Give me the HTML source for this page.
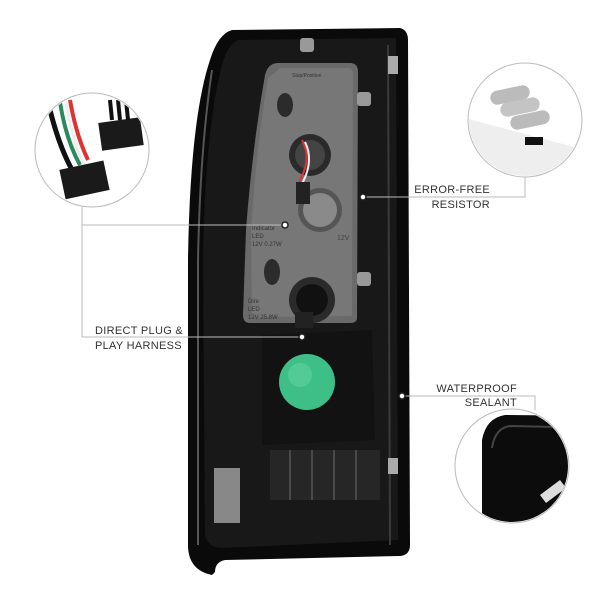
<!DOCTYPE html>
<html><head><meta charset="utf-8"><style>
html,body{margin:0;padding:0;background:#fff;}
svg{display:block}
text{font-family:"Liberation Sans",sans-serif;}
</style></head><body>
<svg width="600" height="600" viewBox="0 0 600 600" xmlns="http://www.w3.org/2000/svg">
<defs>
<clipPath id="c1"><circle cx="92" cy="150" r="56"/></clipPath>
<clipPath id="c2"><circle cx="525" cy="120" r="56"/></clipPath>
<clipPath id="c3"><circle cx="512" cy="466" r="56"/></clipPath>
</defs>
<rect width="600" height="600" fill="#fff"/>
<!-- housing -->
<path d="M232,30 L400,28 Q408,30 408,40 L410,545 Q410,555 400,556 L225,560 Q215,562 215,572 L212,575 Q188,570 188,545 L188,260 Q190,120 210,60 Q218,34 232,30 Z" fill="#0a0a0a"/>
<path d="M238,40 L396,38 L398,540 L222,548 Q208,548 205,535 L203,260 Q205,130 222,65 Q228,44 238,40 Z" fill="#181818"/>
<path d="M212,70 Q200,150 198,260 L198,545" stroke="#555" stroke-width="2" fill="none"/>
<path d="M388,45 L390,545" stroke="#3a3a3a" stroke-width="2" fill="none"/>
<!-- gray plate -->
<path d="M278,63 L350,63 Q358,63 358,72 L357,318 Q357,323 350,323 L250,323 Q243,323 243,315 L246,230 Q252,150 265,75 Q268,63 278,63 Z" fill="#6a6a6a"/>
<path d="M280,68 L348,68 Q353,68 353,75 L352,316 L252,317 L251,230 Q256,150 268,78 Z" fill="#777"/>
<!-- holes -->
<circle cx="310" cy="155" r="21" fill="#2a2a2a"/><circle cx="310" cy="155" r="15" fill="#444"/>
<path d="M302,140 Q312,158 300,180 L300,195" stroke="#d33" stroke-width="2" fill="none"/>
<path d="M305,142 Q314,160 303,182 L303,195" stroke="#eee" stroke-width="2" fill="none"/>
<circle cx="320" cy="210" r="22" fill="#555"/><circle cx="320" cy="210" r="17" fill="#8a8a8a"/>
<circle cx="312" cy="300" r="23" fill="#2a2a2a"/><circle cx="312" cy="300" r="16" fill="#111"/>
<ellipse cx="285" cy="105" rx="8" ry="12" fill="#2b2b2b"/>
<ellipse cx="272" cy="272" rx="8" ry="13" fill="#2b2b2b"/>
<rect x="296" y="182" width="14" height="22" fill="#222"/>
<rect x="295" y="312" width="18" height="16" fill="#222"/>
<!-- lower section -->
<path d="M262,335 L372,330 L375,440 L262,445 Z" fill="#121212"/>
<circle cx="307" cy="382" r="28" fill="#3fbf88"/>
<circle cx="300" cy="375" r="12" fill="#5fd3a0" opacity="0.6"/>
<rect x="270" y="450" width="110" height="50" fill="#262626"/>
<g stroke="#555" stroke-width="1.5"><line x1="290" y1="450" x2="290" y2="500"/><line x1="312" y1="450" x2="312" y2="500"/><line x1="334" y1="450" x2="334" y2="500"/><line x1="356" y1="450" x2="356" y2="500"/></g>
<rect x="214" y="468" width="26" height="55" fill="#888"/>
<rect x="300" y="38" width="14" height="14" rx="3" fill="#999"/>
<rect x="357" y="92" width="14" height="14" rx="3" fill="#999"/>
<rect x="357" y="272" width="14" height="14" rx="3" fill="#999"/>
<rect x="388" y="56" width="10" height="18" fill="#aaa"/>
<rect x="388" y="458" width="10" height="16" fill="#aaa"/>
<text x="292" y="77" font-size="5" fill="#333">Stop/Position</text>
<text x="252" y="230" font-size="6" fill="#333">Indicator</text>
<text x="252" y="238" font-size="6" fill="#333">LED</text>
<text x="252" y="246" font-size="6" fill="#333">12V 0.27W</text>
<text x="248" y="303" font-size="6" fill="#333">Dire</text>
<text x="248" y="311" font-size="6" fill="#333">LED</text>
<text x="248" y="319" font-size="6" fill="#333">12V 25.8W</text>
<text x="337" y="240" font-size="7" fill="#444">12V</text>
<!-- callout lines -->
<g stroke="#bbb" stroke-width="1" fill="none">
<polyline points="82,207 82,337 302,337"/>
<line x1="82" y1="225" x2="285" y2="225"/>
<polyline points="525,177 525,197 363,197"/>
<polyline points="402,396 535,396 535,410"/>
</g>
<g fill="#fff" stroke="#222" stroke-width="1.5">
<circle cx="285" cy="225" r="3"/><circle cx="302" cy="337" r="3"/>
<circle cx="363" cy="197" r="3"/><circle cx="402" cy="396" r="3"/>
</g>
<!-- left circle -->
<circle cx="92" cy="150" r="57" fill="#fff" stroke="#bbb"/>
<g clip-path="url(#c1)">
<path d="M50,110 Q60,150 75,175" stroke="#111" stroke-width="5" fill="none"/>
<path d="M60,102 Q66,140 80,165" stroke="#2a8a5a" stroke-width="4" fill="none"/>
<path d="M66,102 Q72,140 84,165" stroke="#eee" stroke-width="3" fill="none"/>
<path d="M70,100 Q76,135 88,160" stroke="#d33" stroke-width="4" fill="none"/>
<rect x="62" y="165" width="45" height="30" fill="#1a1a1a" transform="rotate(-12 84 180)"/>
<rect x="100" y="120" width="42" height="28" fill="#1a1a1a" transform="rotate(-8 121 134)"/>
<path d="M110,100 L112,120 M118,100 L120,120 M126,100 L128,120" stroke="#111" stroke-width="4"/>
</g>
<!-- right top circle -->
<circle cx="525" cy="120" r="57" fill="#fff" stroke="#bbb"/>
<g clip-path="url(#c2)">
<path d="M465,118 L585,150 L585,185 L480,170 Z" fill="#eee"/>
<rect x="490" y="88" width="40" height="14" rx="7" fill="#bbb" transform="rotate(-12 510 95)"/>
<rect x="500" y="100" width="40" height="14" rx="7" fill="#c4c4c4" transform="rotate(-12 520 107)"/>
<rect x="510" y="113" width="40" height="14" rx="7" fill="#bbb" transform="rotate(-12 530 120)"/>
<rect x="525" y="137" width="18" height="8" fill="#111"/>
</g>
<!-- right bottom circle -->
<circle cx="512" cy="466" r="57" fill="#fff" stroke="#bbb"/>
<g clip-path="url(#c3)">
<path d="M482,440 Q486,418 505,415 L600,416 L600,530 L482,530 Z" fill="#0c0c0c"/>
<path d="M492,448 Q495,428 510,426 L600,428" stroke="#444" stroke-width="2" fill="none"/>
<path d="M540,495 L560,480 L566,488 L546,503 Z" fill="#ddd"/>
</g>
<!-- labels -->
<g font-size="11" fill="#333" letter-spacing="0.3">
<text x="490" y="193" text-anchor="end">ERROR-FREE</text>
<text x="490" y="208" text-anchor="end">RESISTOR</text>
<text x="95" y="334">DIRECT PLUG &amp;</text>
<text x="95" y="349">PLAY HARNESS</text>
<text x="517" y="392" text-anchor="end">WATERPROOF</text>
<text x="517" y="406" text-anchor="end">SEALANT</text>
</g>
</svg>
</body></html>
